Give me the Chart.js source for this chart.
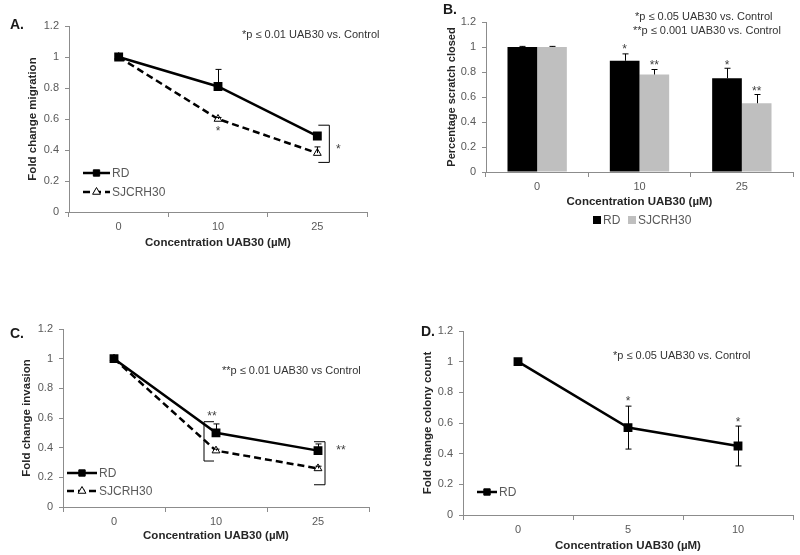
<!DOCTYPE html>
<html>
<head>
<meta charset="utf-8">
<script src="https://cdn.jsdelivr.net/npm/chart.js@4.4.0/dist/chart.umd.min.js"></script>
<style>
  html, body { margin: 0; padding: 0; background: #fff; }
  #fig { position: relative; width: 800px; height: 555px; overflow: hidden; font-family: "Liberation Sans", Arial, sans-serif; }
  #fig canvas { position: absolute; }
  .letter { position: absolute; font-weight: bold; font-size: 14px; color: #1a1a1a; line-height: 16px; }
  .note { position: absolute; font-size: 11px; color: #333; line-height: 13px; white-space: nowrap; }
</style>
</head>
<body>
<div id="fig">
  <canvas id="cA" width="400" height="270" style="left:0;top:0"></canvas>
  <canvas id="cB" width="400" height="270" style="left:400px;top:0"></canvas>
  <canvas id="cC" width="400" height="285" style="left:0;top:270px"></canvas>
  <canvas id="cD" width="400" height="285" style="left:400px;top:270px"></canvas>
  <div class="letter" style="left:10px;top:16px">A.</div>
  <div class="letter" style="left:443px;top:1px">B.</div>
  <div class="letter" style="left:10px;top:325px">C.</div>
  <div class="letter" style="left:421px;top:323px">D.</div>
  <div class="note" style="left:242px;top:28px">*p ≤ 0.01 UAB30 vs. Control</div>
  <div class="note" style="left:635px;top:10px">*p ≤ 0.05 UAB30 vs. Control</div>
  <div class="note" style="left:633px;top:24px">**p ≤ 0.001 UAB30 vs. Control</div>
  <div class="note" style="left:222px;top:364px">**p ≤ 0.01 UAB30 vs Control</div>
  <div class="note" style="left:613px;top:349px">*p ≤ 0.05 UAB30 vs. Control</div>
</div>
<script>
// categories
const concAC = ['0', '10', '25'];
const concD = ['0', '5', '10'];

// A: migration
const migRD = [1, 0.81, 0.49];
const migRDErr = [0, 0.11, 0.01];
const migSJ = [1, 0.60, 0.38];
const migSJErr = [0, 0.01, 0.04];

// B: scratch closure
const scratchRD = [1, 0.89, 0.75];
const scratchRDErr = [0.005, 0.055, 0.08];
const scratchSJ = [1, 0.78, 0.55];
const scratchSJErr = [0.005, 0.04, 0.07];

// C: invasion
const invRD = [1, 0.50, 0.38];
const invRDErr = [0, 0.06, 0.045];
const invSJ = [1, 0.38, 0.26];
const invSJErr = [0, 0.01, 0.015];

// D: colony count
const colRD = [1, 0.57, 0.45];
const colRDErr = [0, 0.14, 0.13];

const FONT = '"Liberation Sans", Arial, sans-serif';
const AXIS = '#8c8c8c';
const TICK = '#595959';

// error bars, significance stars, brackets and inline legends
const extrasPlugin = {
  id: 'extras',
  afterDatasetsDraw(chart, args, opts) {
    const { ctx } = chart;
    const y = chart.scales.y;
    ctx.save();
    ctx.strokeStyle = '#000';
    ctx.lineWidth = 1;
    chart.data.datasets.forEach((ds, di) => {
      if (!ds.err) return;
      const meta = chart.getDatasetMeta(di);
      ds.err.forEach((e, i) => {
        if (!e) return;
        const x = Math.round(meta.data[i].x) + 0.5;
        const top = y.getPixelForValue(ds.data[i] + e);
        const bot = ds.errBoth ? y.getPixelForValue(ds.data[i] - e) : meta.data[i].y;
        ctx.beginPath();
        ctx.moveTo(x, top); ctx.lineTo(x, bot);
        ctx.moveTo(x - 3, top); ctx.lineTo(x + 3, top);
        if (ds.errBoth) { ctx.moveTo(x - 3, bot); ctx.lineTo(x + 3, bot); }
        ctx.stroke();
      });
    });
    (opts.brackets || []).forEach(b => {
      const cx = chart.getDatasetMeta(0).data[b.i].x;
      const t = y.getPixelForValue(b.top), bt = y.getPixelForValue(b.bottom);
      ctx.beginPath();
      ctx.moveTo(cx + b.from, t); ctx.lineTo(cx + b.to, t); ctx.lineTo(cx + b.to, bt); ctx.lineTo(cx + b.from, bt);
      ctx.stroke();
    });
    ctx.fillStyle = '#404040';
    ctx.font = '12px ' + FONT;
    ctx.textAlign = 'center';
    ctx.textBaseline = 'middle';
    (opts.stars || []).forEach(s => {
      const x = chart.getDatasetMeta(s.ds).data[s.i].x + (s.dx || 0);
      ctx.fillText(s.text, x, y.getPixelForValue(s.v) + 3);
    });
    (opts.legend || []).forEach(l => {
      const ds = chart.data.datasets[l.ds];
      ctx.font = '12px ' + FONT;
      ctx.textAlign = 'left';
      ctx.fillStyle = TICK;
      if (l.box) {
        ctx.fillStyle = ds.backgroundColor;
        ctx.fillRect(l.x, l.y - 4, 8, 8);
        ctx.fillStyle = TICK;
        ctx.fillText(ds.label, l.x + 10, l.y + 1);
        return;
      }
      ctx.strokeStyle = '#000';
      ctx.lineWidth = ds.borderWidth;
      ctx.setLineDash(ds.borderDash || []);
      ctx.beginPath();
      ctx.moveTo(l.x, l.y); ctx.lineTo(l.x + l.w, l.y);
      ctx.stroke();
      ctx.setLineDash([]);
      ctx.fillStyle = ds.pointBackgroundColor;
      ctx.strokeStyle = '#000';
      ctx.lineWidth = 1;
      Chart.helpers.drawPoint(ctx, { pointStyle: ds.pointStyle, radius: ds.pointRadius, borderWidth: 1, rotation: 0 }, l.x + l.w / 2, l.y);
      ctx.fillStyle = TICK;
      ctx.fillText(ds.label, l.x + l.w + 2, l.y + 1);
    });
    ctx.restore();
  },
};

function rdLine(data, err, both) {
  return {
    label: 'RD', data, err, errBoth: both,
    borderColor: '#000', borderWidth: 2.5,
    pointStyle: 'rect', pointRadius: 4.5, pointBackgroundColor: '#000', pointBorderColor: '#000',
  };
}
function sjLine(data, err) {
  return {
    label: 'SJCRH30', data, err,
    borderColor: '#000', borderWidth: 2.5, borderDash: [7, 4],
    pointStyle: 'triangle', pointRadius: 4.5, pointBackgroundColor: '#fff', pointBorderColor: '#000', pointBorderWidth: 1,
  };
}

function makeOptions(p) {
  return {
    responsive: false,
    animation: false,
    events: [],
    layout: { padding: { top: p.top, right: p.right, left: 0, bottom: 0 } },
    plugins: { legend: { display: false }, tooltip: { enabled: false }, extras: p.extras },
    scales: {
      x: {
        offset: true,
        grid: { offset: true, drawOnChartArea: false, tickLength: 5, color: AXIS },
        border: { color: AXIS },
        ticks: { color: TICK, font: { family: FONT, size: 11 }, padding: 3 },
        title: { display: true, text: 'Concentration UAB30 (µM)', color: '#262626',
          font: { family: FONT, size: 11.5, weight: 'bold' }, padding: { top: 0, bottom: p.xTitlePad } },
        afterFit: s => { s.height = p.xH; },
      },
      y: {
        min: 0, max: 1.2,
        grid: { drawOnChartArea: false, tickLength: 4, color: AXIS },
        border: { color: AXIS },
        ticks: { stepSize: 0.2, color: TICK, font: { family: FONT, size: 11 }, padding: 6,
          callback: v => String(Math.round(v * 10) / 10) },
        title: { display: true, text: p.yTitle, color: '#262626',
          font: { family: FONT, size: p.yTitleSize || 11.5, weight: 'bold' }, padding: { top: p.yTitlePad, bottom: 0 } },
        afterFit: s => { s.width = p.yW; },
      },
    },
  };
}

new Chart(document.getElementById('cA'), {
  type: 'line',
  data: { labels: concAC, datasets: [rdLine(migRD, migRDErr), sjLine(migSJ, migSJErr)] },
  options: makeOptions({
    top: 26, right: 33, xH: 58, yW: 69, xTitlePad: 20, yTitlePad: 26,
    yTitle: 'Fold change migration',
    extras: {
      brackets: [{ i: 2, from: 1, to: 12, top: 0.56, bottom: 0.32 }],
      stars: [{ ds: 1, i: 1, v: 0.54, text: '*' }, { ds: 1, i: 2, v: 0.42, dx: 21, text: '*' }],
      legend: [{ ds: 0, x: 83, y: 173, w: 27 }, { ds: 1, x: 83, y: 192, w: 27 }],
    },
  }),
  plugins: [extrasPlugin],
});

new Chart(document.getElementById('cB'), {
  type: 'bar',
  data: {
    labels: concAC,
    datasets: [
      { label: 'RD', data: scratchRD, err: scratchRDErr, backgroundColor: '#000', categoryPercentage: 0.58, barPercentage: 1 },
      { label: 'SJCRH30', data: scratchSJ, err: scratchSJErr, backgroundColor: '#bfbfbf', categoryPercentage: 0.58, barPercentage: 1 },
    ],
  },
  options: makeOptions({
    top: 22, right: 7, xH: 98, yW: 86, xTitlePad: 61, yTitlePad: 45, yTitleSize: 11,
    yTitle: 'Percentage scratch closed',
    extras: {
      stars: [
        { ds: 0, i: 1, v: 1.0, text: '*' }, { ds: 1, i: 1, v: 0.875, text: '**' },
        { ds: 0, i: 2, v: 0.875, text: '*' }, { ds: 1, i: 2, v: 0.67, text: '**' },
      ],
      legend: [{ ds: 0, box: true, x: 193, y: 220 }, { ds: 1, box: true, x: 228, y: 220 }],
    },
  }),
  plugins: [extrasPlugin],
});

new Chart(document.getElementById('cC'), {
  type: 'line',
  data: { labels: concAC, datasets: [rdLine(invRD, invRDErr), sjLine(invSJ, invSJErr)] },
  options: makeOptions({
    top: 59, right: 31, xH: 48, yW: 63, xTitlePad: 12, yTitlePad: 20,
    yTitle: 'Fold change invasion',
    extras: {
      brackets: [{ i: 1, from: -2, to: -12, top: 0.575, bottom: 0.31 }, { i: 2, from: -4, to: 7, top: 0.44, bottom: 0.15 }],
      stars: [{ ds: 0, i: 1, v: 0.63, dx: -4, text: '**' }, { ds: 0, i: 2, v: 0.40, dx: 23, text: '**' }],
      legend: [{ ds: 0, x: 67, y: 203, w: 30 }, { ds: 1, x: 67, y: 221, w: 30 }],
    },
  }),
  plugins: [extrasPlugin],
});

new Chart(document.getElementById('cD'), {
  type: 'line',
  data: { labels: concD, datasets: [rdLine(colRD, colRDErr, true)] },
  options: makeOptions({
    top: 61, right: 2, xH: 40, yW: 63, xTitlePad: 2, yTitlePad: 21,
    yTitle: 'Fold change colony count',
    extras: {
      stars: [{ ds: 0, i: 1, v: 0.76, text: '*' }, { ds: 0, i: 2, v: 0.62, text: '*' }],
      legend: [{ ds: 0, x: 77, y: 222, w: 20 }],
    },
  }),
  plugins: [extrasPlugin],
});
</script>
</body>
</html>
